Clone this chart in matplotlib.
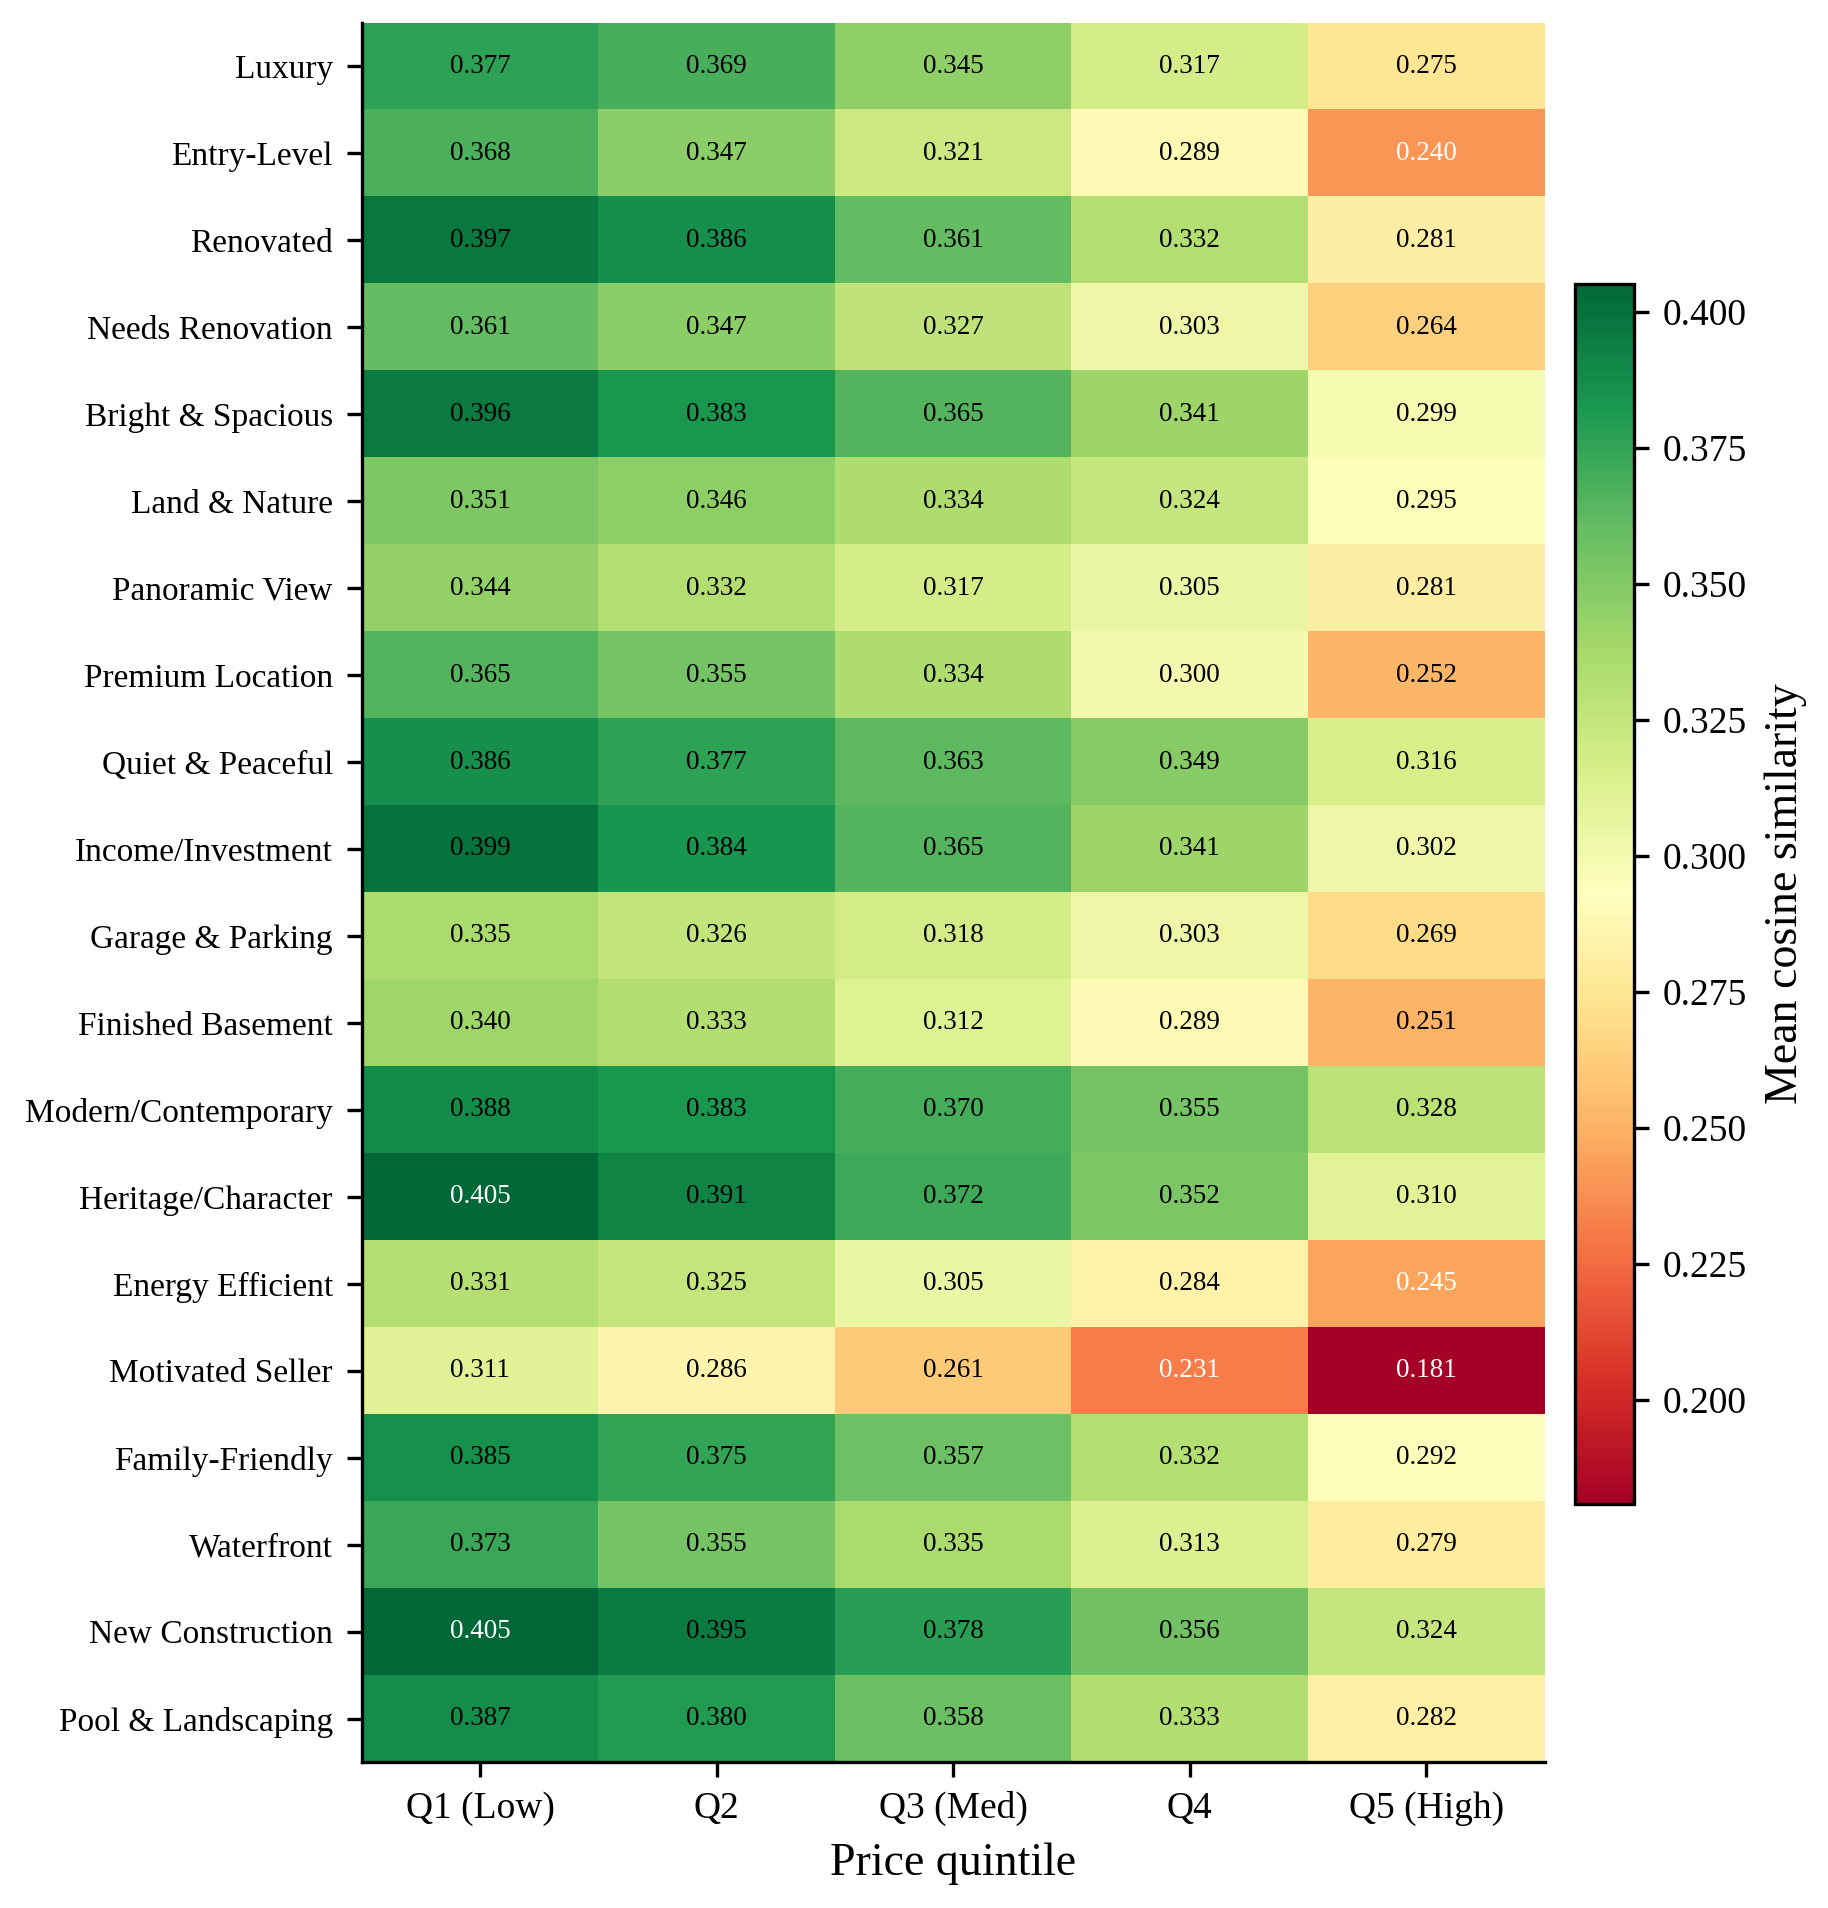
import numpy as np
import matplotlib
matplotlib.use("Agg")
import matplotlib.pyplot as plt
from matplotlib.colors import Normalize

plt.rcParams["font.family"] = ["Liberation Serif", "DejaVu Serif"]

archetypes = [
    "Luxury", "Entry-Level", "Renovated", "Needs Renovation", "Bright & Spacious",
    "Land & Nature", "Panoramic View", "Premium Location", "Quiet & Peaceful",
    "Income/Investment", "Garage & Parking", "Finished Basement",
    "Modern/Contemporary", "Heritage/Character", "Energy Efficient",
    "Motivated Seller", "Family-Friendly", "Waterfront", "New Construction",
    "Pool & Landscaping",
]
quintiles = ["Q1 (Low)", "Q2", "Q3 (Med)", "Q4", "Q5 (High)"]

q1 = [0.377, 0.368, 0.397, 0.361, 0.396, 0.351, 0.344, 0.365, 0.386, 0.399,
      0.335, 0.340, 0.388, 0.405, 0.331, 0.311, 0.385, 0.373, 0.405, 0.387]
q2 = [0.369, 0.347, 0.386, 0.347, 0.383, 0.346, 0.332, 0.355, 0.377, 0.384,
      0.326, 0.333, 0.383, 0.391, 0.325, 0.286, 0.375, 0.355, 0.395, 0.380]
q3 = [0.345, 0.321, 0.361, 0.327, 0.365, 0.334, 0.317, 0.334, 0.363, 0.365,
      0.318, 0.312, 0.370, 0.372, 0.305, 0.261, 0.357, 0.335, 0.378, 0.358]
q4 = [0.317, 0.289, 0.332, 0.303, 0.341, 0.324, 0.305, 0.300, 0.349, 0.341,
      0.303, 0.289, 0.355, 0.352, 0.284, 0.231, 0.332, 0.313, 0.356, 0.333]
q5 = [0.275, 0.240, 0.281, 0.264, 0.299, 0.295, 0.281, 0.252, 0.316, 0.302,
      0.269, 0.251, 0.328, 0.310, 0.245, 0.181, 0.292, 0.279, 0.324, 0.282]

mat = np.array([q1, q2, q3, q4, q5]).T
vmin, vmax = mat.min(), mat.max()

fig = plt.figure(figsize=(1828 / 300, 1908 / 300), dpi=300)
ax = fig.add_axes([0.198, 0.0765, 0.647, 0.9115])
cax = fig.add_axes([0.8615, 0.212, 0.0323, 0.639])

norm = Normalize(vmin=vmin, vmax=vmax)
im = ax.imshow(mat, cmap="RdYlGn", norm=norm, aspect="auto")

for i in range(mat.shape[0]):
    for j in range(mat.shape[1]):
        v = mat[i, j]
        t = norm(v)
        color = "white" if (t > 0.99 or t < 0.3) else "black"
        ax.text(j, i, f"{v:.3f}", ha="center", va="center", fontsize=6.5, color=color)

ax.set_xticks(range(len(quintiles)))
ax.set_xticklabels(quintiles, fontsize=9)
ax.set_yticks(range(len(archetypes)))
ax.set_yticklabels(archetypes, fontsize=8)
ax.set_xlabel("Price quintile", fontsize=11)
ax.spines["top"].set_visible(False)
ax.spines["right"].set_visible(False)

cb = fig.colorbar(im, cax=cax)
cb.set_ticks([0.200, 0.225, 0.250, 0.275, 0.300, 0.325, 0.350, 0.375, 0.400])
cb.ax.set_yticklabels([f"{t:.3f}" for t in cb.get_ticks()], fontsize=9)
cb.set_label("Mean cosine similarity", fontsize=11)

fig.savefig("out.png", dpi=300)
